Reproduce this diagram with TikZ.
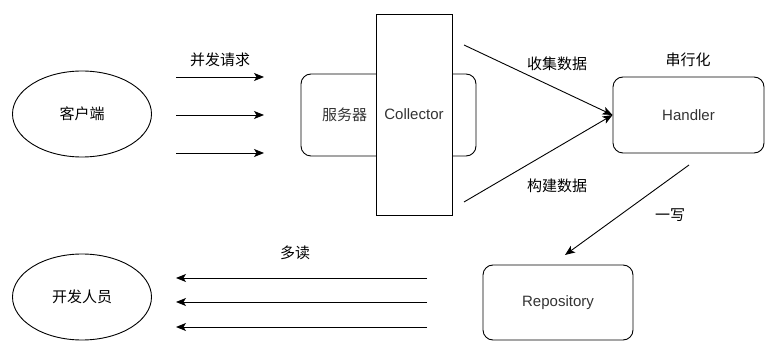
\documentclass[tikz,border=0pt]{standalone}
\usepackage{fontspec}
\setmainfont{Liberation Sans}
\newfontfamily\cjk{Noto Sans CJK SC}
\usepackage{tikz}
\usetikzlibrary{arrows.meta, positioning, shapes.geometric}
\definecolor{txtgray}{HTML}{333333}

\begin{document}
\begin{tikzpicture}[x=1pt, y=-1pt, line width=0.9pt,
    every node/.style={font=\cjk\fontsize{15}{18}\selectfont, inner sep=0pt},
    actor/.style={draw, ellipse, minimum width=139, minimum height=86},
    box/.style={draw, rounded corners=10pt, text=txtgray},
    latin/.style={font=\normalfont\fontsize{15}{18}\selectfont},
    lbl/.style={text=black},
    arr/.style={-{Stealth[length=10pt, width=8pt, inset=2.5pt]}}]
    \useasboundingbox (0,0) rectangle (779,355);

    % --- 1. 客户端与开发人员 ---
    \node[actor] (client) at (82,114) {客户端};
    \node[actor] (dev) at (82,297) {开发人员};

    % --- 2. 服务器与 Collector ---
    \node[box, minimum width=175, minimum height=82] (server) at (388.5,115) {};
    \node[text=txtgray, right=21pt of server.west] (serverlbl) {服务器};
    \node[box, latin, sharp corners, fill=white, minimum width=76, minimum height=201] (collector) at (414,114.5) {Collector};

    % --- 3. Handler 与 Repository ---
    \node[box, latin, minimum width=151, minimum height=76] (handler) at (688.5,115) {Handler};
    \node[box, latin, minimum width=150, minimum height=75] (repo) at (558,302.5) {Repository};

    % --- 4. 请求与读取 ---
    \foreach \i/\y in {1/77, 2/115, 3/153} {
        \coordinate (req\i) at (176,\y);
        \coordinate (reqend\i) at (264,\y);
        \draw[arr] (req\i) -- (reqend\i);
    }
    \foreach \i/\y in {1/278, 2/302, 3/327} {
        \coordinate (read\i) at (427,\y);
        \coordinate (readend\i) at (176,\y);
        \draw[arr] (read\i) -- (readend\i);
    }

    % --- 5. 收集、构建与写入 ---
    \coordinate (collect) at (464,45);
    \coordinate (build) at (464,202);
    \draw[arr] (collect) -- (handler.west);
    \draw[arr] (build) -- (handler.west);
    \coordinate (write) at (689,165);
    \coordinate (writeend) at (565,255);
    \draw[arr] (write) -- (writeend);

    % --- 6. 标签 ---
    \node[lbl] (concur) at (220,60) {并发请求};
    \node[lbl] (collectlbl) at (557,64) {收集数据};
    \node[lbl] (buildlbl) at (557,186) {构建数据};
    \node[lbl] (serial) at (688,60) {串行化};
    \node[lbl] (writelbl) at (670,215) {一写};
    \node[lbl] (readlbl) at (295,253) {多读};

\end{tikzpicture}
\end{document}
